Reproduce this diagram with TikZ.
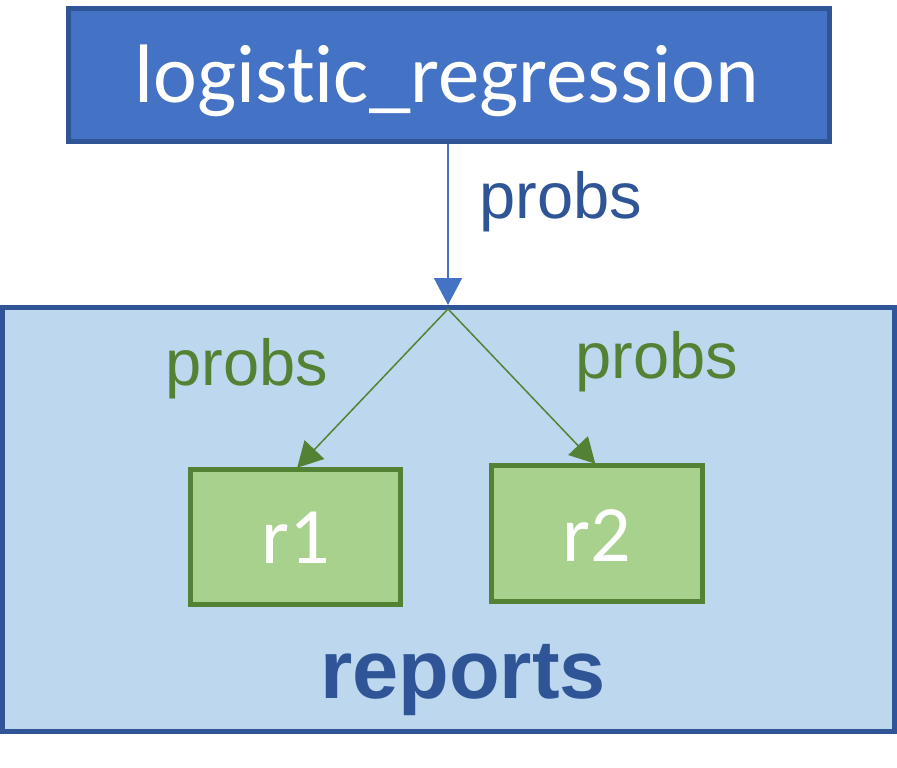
\documentclass[tikz,border=0pt]{standalone}
\usepackage{fontspec}
\usetikzlibrary{arrows.meta}
\newfontfamily\calibfont[Ligatures={NoCommon,NoRare,NoDiscretionary}]{Carlito}
\newfontfamily\arialfont{Liberation Sans}
\definecolor{boxblue}{HTML}{4472C4}
\definecolor{darkblue}{HTML}{2F5597}
\definecolor{lightblue}{HTML}{BDD7EE}
\definecolor{boxgreen}{HTML}{A9D18E}
\definecolor{darkgreen}{HTML}{548235}
\tikzset{
  x=1bp, y=-1bp,
  topbox/.style={draw=darkblue, fill=boxblue, line width=5bp, inner sep=0pt, outer sep=0pt},
  groupbox/.style={draw=darkblue, fill=lightblue, line width=5bp, inner sep=0pt, outer sep=0pt},
  repbox/.style={draw=darkgreen, fill=boxgreen, line width=5bp, inner sep=0pt, outer sep=0pt},
  bigtext/.style={text=white, inner sep=0pt, anchor=base, font=\calibfont\fontsize{83bp}{90bp}\selectfont},
  midtext/.style={text=white, inner sep=0pt, anchor=base, font=\calibfont\fontsize{80bp}{90bp}\selectfont},
  bluelabel/.style={text=darkblue, inner sep=0pt, anchor=base, font=\arialfont\fontsize{65bp}{70bp}\selectfont},
  greenlabel/.style={text=darkgreen, inner sep=0pt, anchor=base, font=\arialfont\fontsize{65bp}{70bp}\selectfont},
  grouptitle/.style={text=darkblue, inner sep=0pt, anchor=base, font=\arialfont\bfseries\fontsize{83bp}{90bp}\selectfont},
  bluearrow/.style={draw=boxblue, line width=1.5bp, -{Triangle[length=27bp,width=28bp]}},
  greenarrow/.style={draw=darkgreen, line width=1.5bp, -{Triangle[length=25bp,width=27bp]}},
}
\begin{document}
\begin{tikzpicture}
\useasboundingbox (0,0) rectangle (897,768);
% group box
\node[groupbox, minimum width=892bp, minimum height=424bp] (reports) at (448.5,519.5) {};
\node[grouptitle] (reportstitle) at (463,698) {reports};
% top box
\node[topbox, minimum width=761bp, minimum height=132.5bp] (lr) at (449,74.75) {};
\node[bigtext] (lrtext) at (447,102) {logistic\_regression};
% report boxes
\node[repbox, minimum width=210bp, minimum height=135bp] (r1) at (295.5,537) {};
\node[midtext] (r1text) at (296,563) {r1};
\node[repbox, minimum width=211bp, minimum height=136bp] (r2) at (597,533.5) {};
\node[midtext] (r2text) at (596.5,561) {r2};
% connectors
\coordinate (tip) at (448,305);
\coordinate (split) at (448,309);
\draw[bluearrow, shorten <=2.5bp] (lr.south -| tip) -- (tip);
\draw[greenarrow, shorten >=2.5bp] (split) -- (r1.north);
\draw[greenarrow, shorten >=2.5bp] (split) -- (r2.north);
% labels
\node[bluelabel] (lblmain) at (561,218) {probs};
\node[greenlabel] (lblr1) at (247,385) {probs};
\node[greenlabel] (lblr2) at (657,378) {probs};
\end{tikzpicture}
\end{document}
